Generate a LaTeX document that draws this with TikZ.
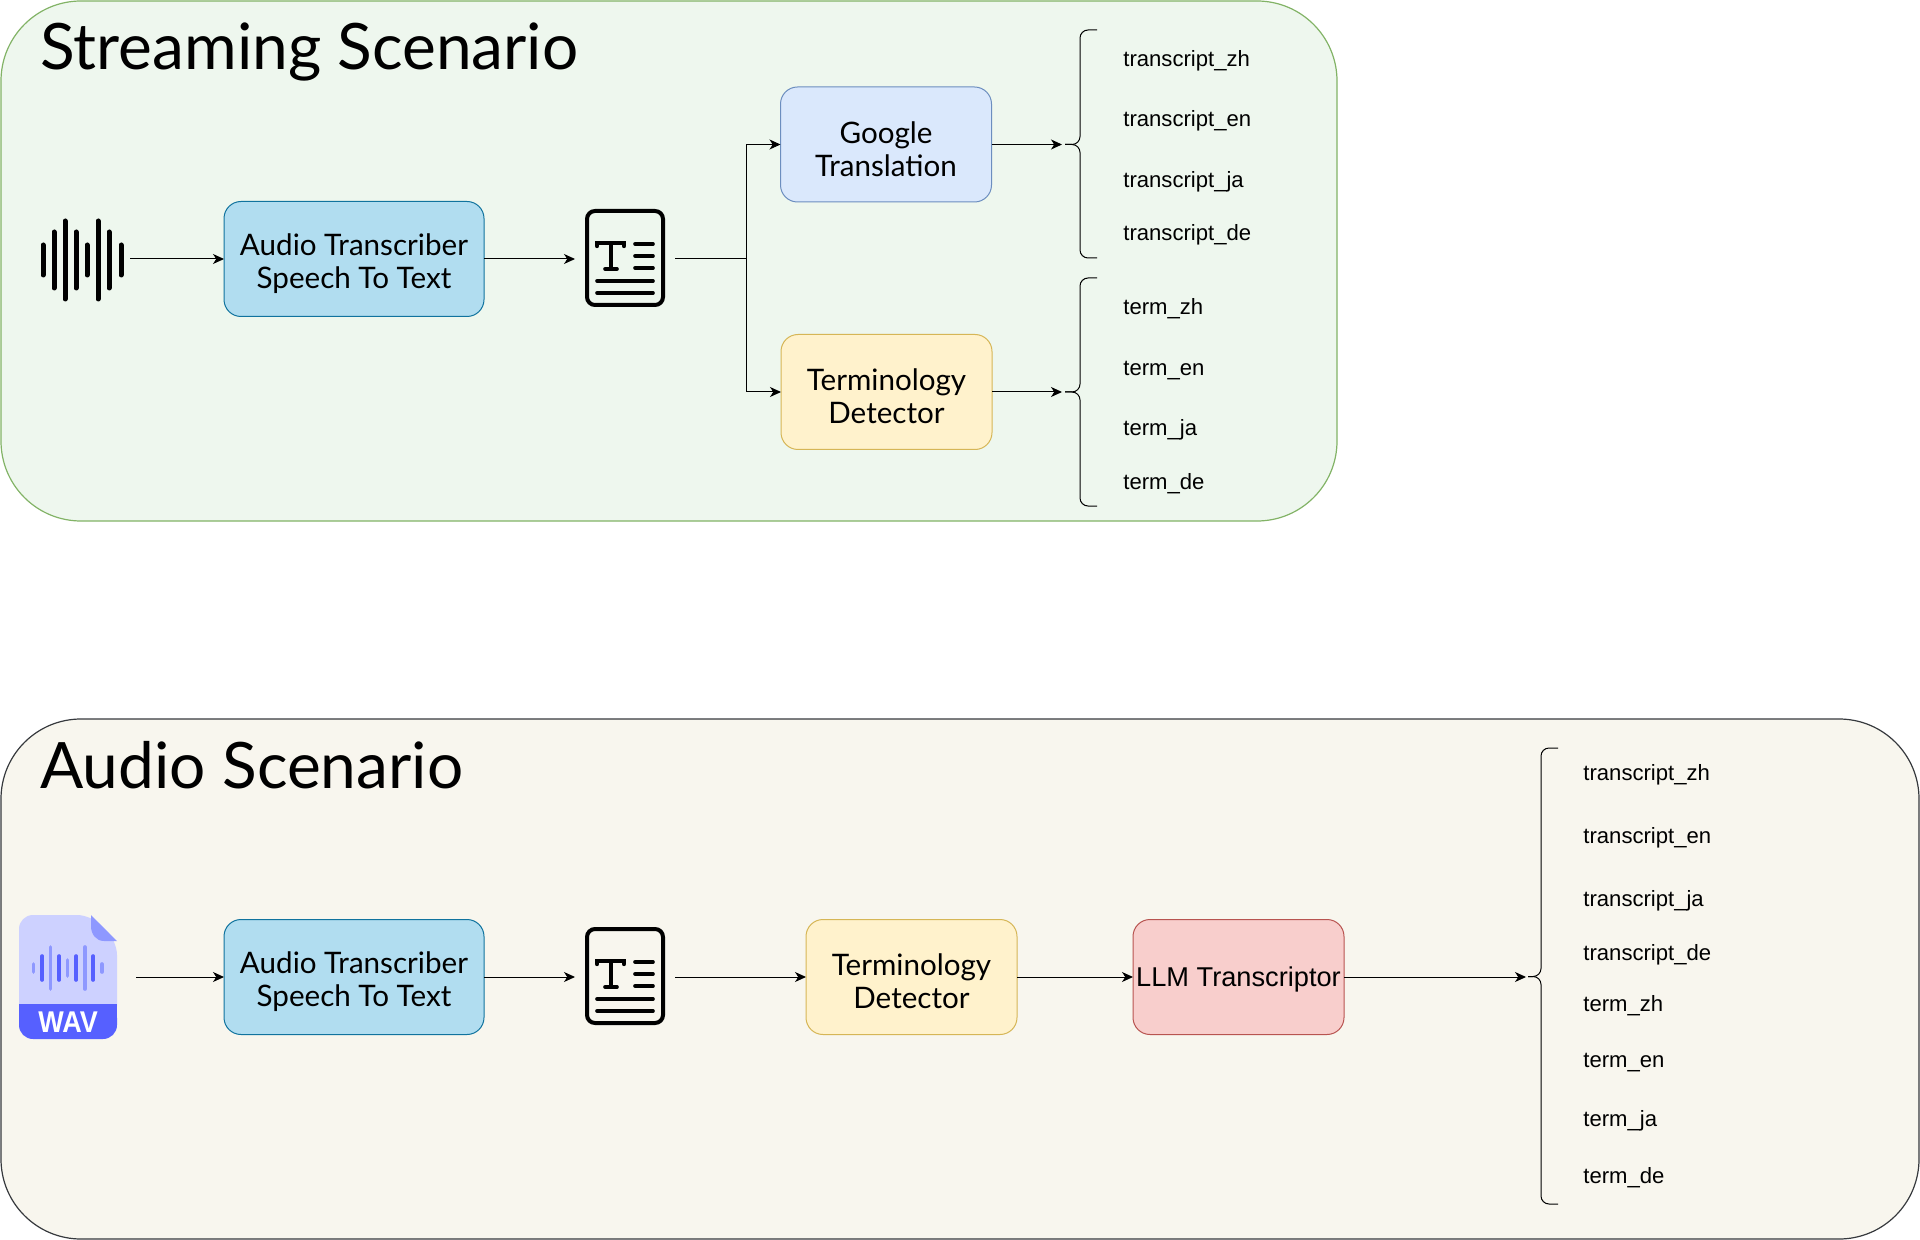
\documentclass[tikz,border=0pt]{standalone}
\usepackage{fontspec}
\setmainfont{Liberation Sans}
\newfontfamily\handfont{Lato}
\usetikzlibrary{arrows.meta}
\definecolor{greenfill}{HTML}{EEF7EE}
\definecolor{greenline}{HTML}{82B366}
\definecolor{beigefill}{HTML}{F8F6EE}
\definecolor{beigeline}{HTML}{36393D}
\definecolor{bluefill}{HTML}{B1DDF0}
\definecolor{blueline}{HTML}{10739E}
\definecolor{googlefill}{HTML}{DAE8FC}
\definecolor{googleline}{HTML}{6C8EBF}
\definecolor{yellowfill}{HTML}{FFF2CC}
\definecolor{yellowline}{HTML}{D6B656}
\definecolor{redfill}{HTML}{F8CECC}
\definecolor{redline}{HTML}{B85450}
\definecolor{wavlight}{HTML}{CDD1FF}
\definecolor{wavmid}{HTML}{8E98FF}
\definecolor{wavdark}{HTML}{5660FF}
\tikzset{
    panel/.style={line width=0.6pt, rounded corners=40pt},
    stagebox/.style={draw, line width=0.5pt, rounded corners=8.5pt, inner sep=0pt, outer sep=0pt,
        minimum width=#1, minimum height=57.5pt, align=center, text height=32pt,
        font=\handfont\fontsize{14.8}{16.5}\selectfont},
    stagebox/.default=105.5pt,
    iconbox/.style={minimum width=#1, minimum height=10pt, inner sep=0pt, outer sep=0pt},
    flow/.style={line width=0.5pt, -{Stealth[length=5.5pt,width=5pt,inset=1.6pt]}},
    title/.style={anchor=base west, inner sep=0pt, font=\handfont\fontsize{32}{38}\selectfont},
    output/.style={anchor=base west, inner sep=0pt, font=\fontsize{11.05}{13}\selectfont}
}
% T-page icon, centred on the given point
\newcommand{\pageicon}[2]{
    \begin{scope}[shift={(#1,#2)}, line cap=round, line width=1.8pt]
        \draw[line width=2pt, rounded corners=4pt] (-38,-47) rectangle (38,47);
        \draw[line width=2.2pt] (-28,-12) -- (-28,-15) -- (-1,-15) -- (-1,-12);
        \draw (-14,-15) -- (-14,11) (-20,11) -- (-8,11);
        \foreach \y in {-14,-2,10}
            \draw (10,\y) -- (28,\y);
        \foreach \y in {23,35}
            \draw (-28,\y) -- (28,\y);
    \end{scope}
}
% curly bracket: end x, spine x, tip x, then top, middle, bottom y
\newcommand{\curlybracket}[6]{
    \draw[line width=0.5pt, rounded corners=4pt] (#1,#4) -- (#2,#4) -- (#2,#5) -- (#3,#5);
    \draw[line width=0.5pt, rounded corners=4pt] (#1,#6) -- (#2,#6) -- (#2,#5) -- (#3,#5);
}
\begin{document}
\begin{tikzpicture}[x=0.5pt, y=-0.5pt]
    \useasboundingbox (0,0) rectangle (1920,1240);

    % Two panels
    \draw[panel, fill=greenfill, draw=greenline] (1,1) rectangle (1337,521);
    \draw[panel, fill=beigefill, draw=beigeline] (1,719) rectangle (1919,1239);
    \node[title] (streamtitle) at (40,70) {Streaming Scenario};
    \node[title] (audiotitle) at (40,788) {Audio Scenario};

    % Streaming row
    \foreach \x/\h in {43/15,54/28,65/39,76/28,87/15,98/39,109/28,121/15}
        \draw[line width=2.5pt, line cap=round] (\x,260-\h) -- (\x,260+\h);
    \node[iconbox=47pt] (sound) at (83,259) {};
    \node[stagebox=130pt, fill=bluefill, draw=blueline] (transcriberA) at (354,259) {Audio Transcriber\\Speech To Text};
    \pageicon{625}{258}
    \node[iconbox=50pt] (pageA) at (625,259) {};
    \coordinate (branch) at (746,259);
    \node[stagebox, fill=googlefill, draw=googleline] (google) at (886,144.5) {Google\\Translation};
    \node[stagebox, fill=yellowfill, draw=yellowline] (detectorA) at (886.5,392) {Terminology\\Detector};
    \coordinate (braceA) at (1062,144.5);
    \coordinate (braceB) at (1062,392);

    \draw[flow] (sound) -- (transcriberA);
    \draw[flow] (transcriberA) -- (pageA);
    \draw[line width=0.5pt] (pageA) -- (branch);
    \draw[flow] (branch) |- (google);
    \draw[flow] (branch) |- (detectorA);
    \draw[flow] (google) -- (braceA);
    \draw[flow] (detectorA) -- (braceB);

    \curlybracket{1097}{1080}{1065}{30}{144.5}{258}
    \curlybracket{1097}{1080}{1065}{278}{392}{506}
    \foreach \name/\y in {transcript_zh/67,transcript_en/127,transcript_ja/188,transcript_de/241,term_zh/315,term_en/376,term_ja/436,term_de/489}
        \node[output] (s\y) at (1123,\y) {\detokenize\expandafter{\name}};

    % Audio row
    \fill[wavlight, rounded corners=7pt] (19,1020) -- (19,915) -- (91,915) -- (117,941) -- (117,1020) -- cycle;
    \fill[wavmid] (91,915) -- (117,941) -- (104,941) .. controls (96,941) and (91,934) .. (91,926) -- cycle;
    \fill[wavdark, rounded corners=7pt] (19,1004) rectangle (117,1039);
    \fill[wavdark] (19,1004) rectangle (117,1016);
    \foreach \x/\h/\c in {33.5/4/wavmid,42.2/12/wavdark,50.5/21/wavmid,59.2/12/wavdark,67.5/8/wavmid,76.2/12/wavdark,85/21/wavmid,93.2/12/wavdark,102/4/wavmid}
        \draw[\c, line width=1.8pt, line cap=round] (\x,968-\h) -- (\x,968+\h);
    \node[inner sep=0pt, text=white, font=\fontsize{15}{17}\bfseries\selectfont] (wavlabel) at (68,1022) {\scalebox{0.9}[1]{WAV}};
    \node[iconbox=58.5pt] (wavfile) at (77.5,977) {};
    \node[stagebox=130pt, fill=bluefill, draw=blueline] (transcriberB) at (354,977) {Audio Transcriber\\Speech To Text};
    \pageicon{625}{976}
    \node[iconbox=50pt] (pageB) at (625,977) {};
    \node[stagebox, fill=yellowfill, draw=yellowline] (detectorB) at (911.5,977) {Terminology\\Detector};
    \node[stagebox, fill=redfill, draw=redline, text height=12.5pt, font=\fontsize{13.6}{15}\selectfont] (llm) at (1238.5,977) {LLM Transcriptor};
    \coordinate (braceC) at (1526,977);

    \draw[flow] (wavfile) -- (transcriberB);
    \draw[flow] (transcriberB) -- (pageB);
    \draw[flow] (pageB) -- (detectorB);
    \draw[flow] (detectorB) -- (llm);
    \draw[flow] (llm) -- (braceC);

    \curlybracket{1558}{1541}{1528}{748}{976.5}{1204}
    \foreach \name/\y in {transcript_zh/780,transcript_en/843,transcript_ja/906,transcript_de/960,term_zh/1011,term_en/1067,term_ja/1126,term_de/1183}
        \node[output] (a\y) at (1583,\y) {\detokenize\expandafter{\name}};
\end{tikzpicture}
\end{document}
